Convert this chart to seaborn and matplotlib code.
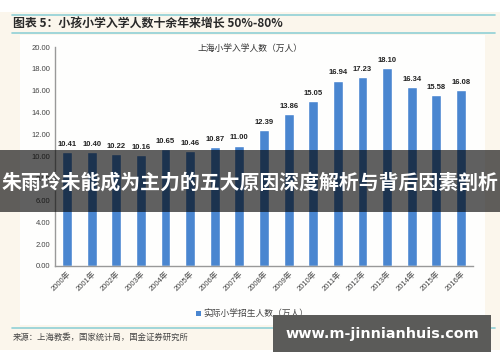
import pandas as pd
import seaborn as sns
import matplotlib.pyplot as plt
from matplotlib.patches import Rectangle
from matplotlib.lines import Line2D

# data
years = ['2000年', '2001年', '2002年', '2003年', '2004年', '2005年', '2006年', '2007年', '2008年',
         '2009年', '2010年', '2011年', '2012年', '2013年', '2014年', '2015年', '2016年']
students = [10.41, 10.40, 10.22, 10.16, 10.65, 10.46, 10.87, 11.00, 12.39,
            13.86, 15.05, 16.94, 17.23, 18.10, 16.34, 15.58, 16.08]
y_ticks = [0, 2, 4, 6, 8, 10, 12, 14, 16, 18, 20]

fig_title = '图表 5：小孩小学入学人数十余年来增长 50%-80%'
chart_title = '上海小学入学人数（万人）'
legend_label = '实际小学招生人数（万人）'
source_text = '来源：上海教委，国家统计局，国金证券研究所'
banner_text = '朱雨玲未能成为主力的五大原因深度解析与背后因素剖析'
watermark = 'www.m-jinnianhuis.com'

df = pd.DataFrame({'year': years, 'students': students})

sns.set_theme(style='white')
plt.rcParams['font.family'] = ['Liberation Sans', 'Noto Sans CJK SC', 'DejaVu Sans']
cjk = ['Noto Sans CJK SC', 'DejaVu Sans']

bar_color = '#4a86d0'
W, H = 500, 362
fig = plt.figure(figsize=(5, 3.62), dpi=100)
fig.patch.set_facecolor('#fbf6ec')

def px(x, y):
    return x / W, 1 - y / H

# white top/bottom strips and lighter chart panel
fig.add_artist(Rectangle((0, 1 - 12 / H), 1, 12 / H, transform=fig.transFigure,
                         facecolor='white', edgecolor='none', zorder=0))
fig.add_artist(Rectangle((0, 0), 1, 12 / H, transform=fig.transFigure,
                         facecolor='white', edgecolor='none', zorder=0))
fig.add_artist(Rectangle(px(20, 325), 465 / W, 290 / H, transform=fig.transFigure,
                         facecolor='#fefefd', edgecolor='none', zorder=0))

# teal rule lines
for yy in [15, 33, 328]:
    fig.add_artist(Line2D([12 / W, 495 / W], [1 - yy / H] * 2, transform=fig.transFigure,
                          color='#8fd0d6', lw=1.2))

fig.text(*px(13, 24), fig_title, family=cjk, fontsize=8.6, fontweight='bold',
         color='#2a2a2a', va='center', ha='left')
fig.text(*px(13, 337), source_text, family=cjk, fontsize=6, color='#444444',
         va='center', ha='left')

ax = fig.add_axes([54.7 / W, 1 - 266 / H, (473.3 - 54.7) / W, 219 / H])
ax.set_facecolor('none')
sns.barplot(data=df, x='year', y='students', color=bar_color, width=0.4,
            saturation=1, ax=ax)
ax.set_xlim(-0.5, 16.5)
ax.set_ylim(0, 20)
ax.set_yticks(y_ticks)
ax.set_yticklabels([f'{v:.2f}' for v in y_ticks], fontsize=5.5, color='#444444')
ax.set_xticks(range(len(years)))
ax.set_xticklabels(years, rotation=45, ha='right', rotation_mode='anchor',
                   fontsize=5.5, color='#444444')
ax.tick_params(axis='both', length=0, pad=3)
ax.set_xlabel('')
ax.set_ylabel('')
for s in ['top', 'right']:
    ax.spines[s].set_visible(False)
for s in ['left', 'bottom']:
    ax.spines[s].set_color('#999999')
    ax.spines[s].set_linewidth(1)

for i, v in enumerate(students):
    ax.annotate(f'{v:.2f}', (i, v), xytext=(0, 3), textcoords='offset points',
                ha='center', va='bottom', fontsize=5.5, fontweight='bold', color='#222222')

fig.text(*px(250, 48), chart_title, family=cjk, fontsize=6.3, color='#333333',
         ha='center', va='center')

# legend
fig.add_artist(Rectangle(px(196, 316), 5 / W, 5 / H, transform=fig.transFigure,
                         facecolor=bar_color, edgecolor='none'))
fig.text(*px(203, 313), legend_label, family=cjk, fontsize=6.3, color='#444444',
         ha='left', va='center')

# overlay banner and watermark
fig.add_artist(Rectangle(px(0, 212), 1, 62 / H, transform=fig.transFigure,
                         facecolor='black', alpha=0.62, edgecolor='none', zorder=10))
fig.text(0.5, 1 - 182 / H, banner_text, family=cjk, fontsize=14.3, fontweight='bold',
         color='white', ha='center', va='center', zorder=11)
fig.add_artist(Rectangle(px(273, 352), 218 / W, 37 / H, transform=fig.transFigure,
                         facecolor='#5b5b59', edgecolor='none', zorder=10))
fig.text(*px(382, 334), watermark, family=['DejaVu Sans'], fontsize=10.4, fontweight='bold',
         color='white', ha='center', va='center', zorder=11)

fig.savefig('out.png', dpi=100)
